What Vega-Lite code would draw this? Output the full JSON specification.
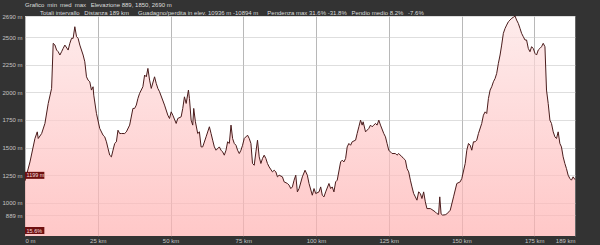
{
  "$schema": "https://vega.github.io/schema/vega-lite/v6.json",
  "width": 550,
  "height": 220,
  "autosize": {"type": "none"},
  "padding": {"left": 25, "right": 25, "top": 16, "bottom": 9},
  "background": "#333333",
  "title": {
    "text": "Grafico\u2002min\u2002med\u2002max\u2002 Elevazione  889, 1850, 2690 m",
    "subtitle": "\u200b\u2003\u2003\u2002Totali intervallo\u2002 Distanza 189 km\u2003\u2002Guadagno/perdita in elev. 10936 m -10894 m\u2003\u2002Pendenza max 31.6% -31.8%\u2002 Pendio medio 8.2%\u2002 -7.6%",
    "anchor": "start",
    "frame": "group",
    "offset": -2.5,
    "font": "Liberation Sans",
    "fontSize": 6,
    "fontWeight": "normal",
    "color": "#dddddd",
    "subtitleFont": "Liberation Sans",
    "subtitleFontSize": 6,
    "subtitleColor": "#dddddd",
    "subtitlePadding": 1.5
  },
  "config": {
    "view": {"fill": "white", "stroke": null},
    "axis": {
      "labelFont": "Liberation Sans",
      "labelFontSize": 6,
      "labelColor": "#c4c4c4",
      "labelOverlap": false,
      "ticks": false,
      "domain": false,
      "title": null,
      "zindex": 1
    }
  },
  "datasets": {
    "profile": [
      {"km":0,"elev":1199},{"km":1.71,"elev":1370},{"km":3.42,"elev":1582},{"km":4.21,"elev":1642},{"km":4.55,"elev":1582},{"km":5.72,"elev":1627},{"km":6.85,"elev":1718},{"km":7.98,"elev":1899},{"km":9.14,"elev":2035},{"km":9.69,"elev":2443},{"km":10.27,"elev":2428},{"km":10.86,"elev":2382},{"km":11.4,"elev":2367},{"km":11.99,"elev":2337},{"km":12.57,"elev":2367},{"km":13.12,"elev":2397},{"km":13.7,"elev":2427},{"km":14.83,"elev":2382},{"km":15.41,"elev":2443},{"km":15.99,"elev":2488},{"km":16.54,"elev":2488},{"km":17.12,"elev":2593},{"km":17.71,"elev":2503},{"km":18.25,"elev":2488},{"km":18.84,"elev":2427},{"km":19.97,"elev":2337},{"km":20.55,"elev":2276},{"km":21.13,"elev":2140},{"km":21.68,"elev":2110},{"km":22.26,"elev":2095},{"km":22.84,"elev":2020},{"km":23.39,"elev":2050},{"km":23.63,"elev":1974},{"km":24.55,"elev":1809},{"km":25.68,"elev":1673},{"km":26.82,"elev":1612},{"km":27.4,"elev":1597},{"km":27.98,"elev":1552},{"km":28.53,"elev":1492},{"km":29.11,"elev":1431},{"km":29.69,"elev":1416},{"km":30.24,"elev":1476},{"km":30.82,"elev":1537},{"km":31.4,"elev":1552},{"km":31.95,"elev":1657},{"km":32.53,"elev":1627},{"km":33.12,"elev":1627},{"km":34.25,"elev":1627},{"km":34.83,"elev":1642},{"km":35.96,"elev":1703},{"km":37.09,"elev":1854},{"km":37.67,"elev":1854},{"km":38.25,"elev":1884},{"km":38.8,"elev":1944},{"km":39.38,"elev":1990},{"km":40.51,"elev":2050},{"km":41.1,"elev":2156},{"km":41.68,"elev":2140},{"km":42.23,"elev":2216},{"km":42.81,"elev":2110},{"km":43.39,"elev":2035},{"km":44.52,"elev":2140},{"km":45.1,"elev":2080},{"km":45.65,"elev":2035},{"km":46.23,"elev":2005},{"km":47.95,"elev":1884},{"km":49.08,"elev":1793},{"km":49.66,"elev":1763},{"km":50.24,"elev":1823},{"km":50.79,"elev":1793},{"km":51.95,"elev":1718},{"km":52.5,"elev":1763},{"km":53.66,"elev":1778},{"km":54.21,"elev":1854},{"km":54.79,"elev":1959},{"km":55.38,"elev":1899},{"km":56.16,"elev":2020},{"km":56.51,"elev":1944},{"km":57.09,"elev":1748},{"km":57.64,"elev":1703},{"km":57.98,"elev":1854},{"km":58.56,"elev":1733},{"km":59.35,"elev":1627},{"km":59.93,"elev":1642},{"km":60.51,"elev":1506},{"km":61.06,"elev":1506},{"km":62.23,"elev":1597},{"km":63.36,"elev":1688},{"km":63.94,"elev":1627},{"km":64.49,"elev":1567},{"km":65.07,"elev":1506},{"km":65.65,"elev":1476},{"km":66.78,"elev":1506},{"km":67.36,"elev":1476},{"km":67.91,"elev":1461},{"km":68.49,"elev":1431},{"km":69.08,"elev":1476},{"km":69.62,"elev":1552},{"km":70.21,"elev":1537},{"km":70.79,"elev":1703},{"km":71.34,"elev":1582},{"km":71.92,"elev":1537},{"km":72.5,"elev":1521},{"km":73.05,"elev":1476},{"km":73.63,"elev":1446},{"km":74.21,"elev":1476},{"km":74.76,"elev":1521},{"km":75.34,"elev":1582},{"km":76.47,"elev":1612},{"km":77.05,"elev":1582},{"km":77.64,"elev":1537},{"km":78.18,"elev":1356},{"km":78.77,"elev":1340},{"km":79.35,"elev":1461},{"km":79.9,"elev":1567},{"km":80.48,"elev":1416},{"km":81.06,"elev":1356},{"km":81.61,"elev":1401},{"km":82.19,"elev":1431},{"km":82.77,"elev":1401},{"km":83.32,"elev":1356},{"km":83.9,"elev":1325},{"km":85.03,"elev":1280},{"km":85.62,"elev":1295},{"km":86.2,"elev":1280},{"km":86.75,"elev":1235},{"km":87.33,"elev":1250},{"km":88.46,"elev":1235},{"km":89.04,"elev":1190},{"km":90.17,"elev":1175},{"km":90.75,"elev":1160},{"km":91.34,"elev":1129},{"km":91.88,"elev":1144},{"km":92.47,"elev":1205},{"km":93.05,"elev":1250},{"km":93.6,"elev":1099},{"km":94.18,"elev":1129},{"km":95.31,"elev":1235},{"km":96.23,"elev":1295},{"km":97.02,"elev":1250},{"km":97.6,"elev":1175},{"km":98.73,"elev":1069},{"km":99.32,"elev":1129},{"km":99.9,"elev":1084},{"km":101.03,"elev":1099},{"km":101.61,"elev":1144},{"km":102.16,"elev":1069},{"km":102.74,"elev":1054},{"km":103.32,"elev":1099},{"km":104.45,"elev":1175},{"km":105.03,"elev":1129},{"km":105.58,"elev":1144},{"km":106.16,"elev":1099},{"km":106.75,"elev":1190},{"km":107.29,"elev":1205},{"km":108.46,"elev":1370},{"km":109.01,"elev":1386},{"km":109.59,"elev":1370},{"km":110.17,"elev":1401},{"km":110.72,"elev":1506},{"km":111.3,"elev":1537},{"km":111.88,"elev":1521},{"km":112.43,"elev":1552},{"km":113.6,"elev":1567},{"km":114.14,"elev":1627},{"km":114.73,"elev":1688},{"km":115.31,"elev":1748},{"km":115.86,"elev":1703},{"km":116.2,"elev":1733},{"km":117.02,"elev":1642},{"km":118.15,"elev":1673},{"km":118.73,"elev":1703},{"km":119.28,"elev":1688},{"km":119.86,"elev":1703},{"km":120.45,"elev":1718},{"km":120.99,"elev":1703},{"km":121.58,"elev":1748},{"km":122.16,"elev":1703},{"km":123.29,"elev":1627},{"km":123.87,"elev":1597},{"km":124.42,"elev":1537},{"km":125,"elev":1476},{"km":126.13,"elev":1446},{"km":127.29,"elev":1446},{"km":127.84,"elev":1431},{"km":128.42,"elev":1446},{"km":129.55,"elev":1416},{"km":130.14,"elev":1401},{"km":130.72,"elev":1386},{"km":131.27,"elev":1310},{"km":131.85,"elev":1280},{"km":132.43,"elev":1205},{"km":132.98,"elev":1144},{"km":133.56,"elev":1084},{"km":134.14,"elev":1054},{"km":134.69,"elev":1024},{"km":135.27,"elev":1099},{"km":135.86,"elev":1084},{"km":136.4,"elev":1039},{"km":136.99,"elev":1099},{"km":137.57,"elev":1009},{"km":138.12,"elev":948},{"km":139.28,"elev":948},{"km":139.83,"elev":939},{"km":140.99,"elev":918},{"km":141.54,"elev":903},{"km":142.12,"elev":895},{"km":142.53,"elev":1054},{"km":142.98,"elev":900},{"km":143.49,"elev":889},{"km":144.42,"elev":892},{"km":144.97,"elev":900},{"km":146.13,"elev":933},{"km":147.26,"elev":1054},{"km":148.39,"elev":1175},{"km":149.55,"elev":1190},{"km":150.1,"elev":1220},{"km":151.27,"elev":1356},{"km":151.82,"elev":1476},{"km":152.4,"elev":1537},{"km":152.98,"elev":1521},{"km":153.53,"elev":1476},{"km":154.11,"elev":1552},{"km":154.69,"elev":1552},{"km":155.24,"elev":1567},{"km":155.82,"elev":1627},{"km":156.95,"elev":1718},{"km":157.53,"elev":1793},{"km":158.12,"elev":1823},{"km":158.66,"elev":1808},{"km":159.25,"elev":1944},{"km":159.83,"elev":2020},{"km":160.38,"elev":2050},{"km":160.96,"elev":2095},{"km":161.54,"elev":2125},{"km":162.09,"elev":2171},{"km":162.67,"elev":2262},{"km":163.25,"elev":2337},{"km":163.8,"elev":2427},{"km":164.38,"elev":2533},{"km":164.97,"elev":2578},{"km":165.51,"elev":2608},{"km":166.1,"elev":2638},{"km":166.68,"elev":2653},{"km":167.23,"elev":2669},{"km":167.81,"elev":2678},{"km":168.39,"elev":2690},{"km":168.94,"elev":2653},{"km":169.52,"elev":2623},{"km":170.1,"elev":2578},{"km":170.65,"elev":2533},{"km":171.23,"elev":2503},{"km":171.82,"elev":2473},{"km":172.36,"elev":2473},{"km":172.95,"elev":2397},{"km":173.53,"elev":2367},{"km":174.08,"elev":2412},{"km":174.66,"elev":2397},{"km":175.24,"elev":2352},{"km":175.79,"elev":2337},{"km":176.37,"elev":2382},{"km":176.95,"elev":2397},{"km":177.5,"elev":2412},{"km":178.08,"elev":2443},{"km":178.67,"elev":2412},{"km":179.21,"elev":2020},{"km":179.79,"elev":1899},{"km":180.38,"elev":1748},{"km":180.92,"elev":1718},{"km":181.51,"elev":1642},{"km":182.09,"elev":1597},{"km":182.64,"elev":1582},{"km":183.22,"elev":1642},{"km":183.8,"elev":1537},{"km":184.35,"elev":1506},{"km":184.93,"elev":1416},{"km":185.51,"elev":1356},{"km":186.06,"elev":1310},{"km":186.64,"elev":1250},{"km":187.23,"elev":1220},{"km":187.77,"elev":1205},{"km":188.36,"elev":1235},{"km":189,"elev":1210}
    ],
    "readout": [
      {"km": 0, "elev": 1199, "label": "1199 m"},
      {"km": 0, "elev": 700, "label": "15.6%"}
    ]
  },
  "encoding": {
    "x": {
      "field": "km",
      "type": "quantitative",
      "scale": {"domain": [0, 189], "nice": false, "zero": false},
      "axis": {
        "values": [0, 25, 50, 75, 100, 125, 150, 175, 189],
        "labelExpr": "datum.value == 0 ? '0 m' : datum.value + ' km'",
        "labelAlign": {"condition": [{"test": "datum.value == 0", "value": "left"}, {"test": "datum.value == 189", "value": "right"}], "value": "center"},
        "labelPadding": 1,
        "labelOverlap": false,
        "gridColor": "#888888",
        "gridOpacity": 0.6,
        "gridWidth": 1
      }
    },
    "y": {
      "field": "elev",
      "type": "quantitative",
      "scale": {"domain": [700, 2690], "nice": false, "zero": false},
      "axis": {
        "values": [889, 1000, 1250, 1500, 1750, 2000, 2250, 2500, 2690],
        "labelExpr": "datum.value + ' m'",
        "labelPadding": 3,
        "labelOverlap": false,
        "labelBound": false,
        "gridColor": "#c8c8c8",
        "gridOpacity": 0.6,
        "gridWidth": 1
      }
    }
  },
  "layer": [
    {
      "data": {"name": "profile"},
      "mark": {
        "type": "area",
        "color": {
          "gradient": "linear",
          "x1": 0, "y1": 0, "x2": 0, "y2": 1,
          "stops": [
            {"offset": 0, "color": "#fde3e3"},
            {"offset": 1, "color": "#ffb0b0"}
          ]
        },
        "line": {"color": "#4a1c1c", "strokeWidth": 1}
      },
      "encoding": {
        "y2": {"datum": 700}
      }
    },
    {
      "data": {"name": "readout"},
      "mark": {
        "type": "point",
        "shape": "M0,-2H4.3V-0.44H0Z",
        "size": 81,
        "filled": true,
        "color": "#6e1010",
        "opacity": 1
      }
    },
    {
      "data": {"name": "readout"},
      "mark": {
        "type": "text",
        "align": "left",
        "baseline": "middle",
        "dx": 1.5,
        "dy": -5.5,
        "font": "Liberation Sans",
        "fontSize": 5.5,
        "color": "#f2dede"
      },
      "encoding": {
        "text": {"field": "label"}
      }
    }
  ]
}
